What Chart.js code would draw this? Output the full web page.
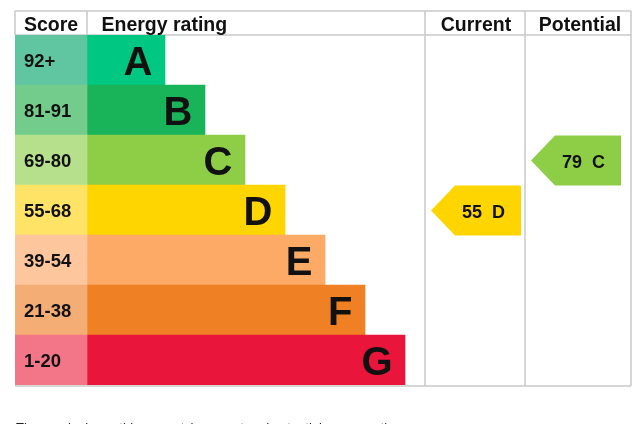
<!DOCTYPE html>
<html>
<head>
<meta charset="utf-8">
<script src="https://cdn.jsdelivr.net/npm/chart.js@4.4.1/dist/chart.umd.min.js"></script>
<style>
  html, body { margin: 0; padding: 0; background: #ffffff; overflow: hidden; }
  canvas { display: block; }
</style>
</head>
<body>
<canvas id="c" width="639" height="424"></canvas>
<script>
// ---- Data ----
const bands = ['A', 'B', 'C', 'D', 'E', 'F', 'G'];
const scoreRanges = ['92+', '81-91', '69-80', '55-68', '39-54', '21-38', '1-20'];
const ratingBarLengths = [78, 118, 158, 198, 238, 278, 318];
const headerLabels = ['Score', 'Energy rating', 'Current', 'Potential'];
const currentRating = { score: 55, band: 'D' };
const potentialRating = { score: 79, band: 'C' };
const footnote = "The graph shows this property's current and potential energy rating.";

// ---- Styles ----
const scoreColors = ['#60c6a1', '#73cc8b', '#b6e08b', '#ffe366', '#fdc69c', '#f4ad74', '#f27588'];
const barColors = ['#00c781', '#19b459', '#8dce46', '#ffd500', '#fcaa65', '#ef8023', '#e9153b'];
const FONT = '"Liberation Sans", Arial, Helvetica, sans-serif';
const TEXT = '#111111';
const GRID = '#c9c9c9';

// column layout in x-scale units
const COL = { score: [0, 72], rating: [72, 410], current: [410, 510], potential: [510, 616] };

const scoreCells = bands.map(() => [COL.score[0], COL.score[1]]);
const ratingBars = ratingBarLengths.map(l => [COL.rating[0], COL.rating[0] + l]);

const tablePlugin = {
  id: 'epcTable',
  beforeDatasetsDraw(chart) {
    const ctx = chart.ctx;
    const xs = chart.scales.x;
    const ca = chart.chartArea;
    const top = 11, headBottom = ca.top, bottom = ca.bottom + 1;
    const px = v => xs.getPixelForValue(v);
    ctx.save();
    ctx.strokeStyle = GRID;
    ctx.lineWidth = 1.5;
    const line = (x1, y1, x2, y2) => { ctx.beginPath(); ctx.moveTo(x1, y1); ctx.lineTo(x2, y2); ctx.stroke(); };
    line(px(0), top, px(616), top);
    line(px(0), headBottom, px(616), headBottom);
    line(px(0), bottom, px(616), bottom);
    line(px(COL.score[0]), top, px(COL.score[0]), headBottom);
    line(px(COL.rating[0]), top, px(COL.rating[0]), headBottom);
    line(px(COL.current[0]), top, px(COL.current[0]), bottom);
    line(px(COL.potential[0]), top, px(COL.potential[0]), bottom);
    line(px(COL.potential[1]), top, px(COL.potential[1]), bottom);

    // headers
    ctx.fillStyle = TEXT;
    ctx.font = 'bold 19.5px ' + FONT;
    ctx.textBaseline = 'alphabetic';
    ctx.textAlign = 'center';
    ctx.fillText(headerLabels[0], (px(COL.score[0]) + px(COL.score[1])) / 2, 31);
    ctx.textAlign = 'left';
    ctx.fillText(headerLabels[1], px(COL.rating[0]) + 14.5, 31);
    ctx.textAlign = 'center';
    ctx.fillText(headerLabels[2], (px(COL.current[0]) + px(COL.current[1])) / 2 + 1, 31);
    ctx.fillText(headerLabels[3], (px(COL.potential[0]) + px(COL.potential[1])) / 2 + 2, 31);

    // footnote
    ctx.textAlign = 'left';
    ctx.font = '13px ' + FONT;
    ctx.fillStyle = '#222222';
    ctx.fillText(footnote, 16, 431.5);
    ctx.restore();
  },
  afterDatasetsDraw(chart) {
    const ctx = chart.ctx;
    const xs = chart.scales.x, ys = chart.scales.y;
    const px = v => xs.getPixelForValue(v);
    const rowH = (chart.chartArea.bottom - chart.chartArea.top) / bands.length;
    ctx.save();
    ctx.fillStyle = TEXT;
    bands.forEach((b, i) => {
      const cy = ys.getPixelForValue(i);
      ctx.font = 'bold 18.5px ' + FONT;
      ctx.textAlign = 'left';
      ctx.fillText(scoreRanges[i], px(COL.score[0]) + 9, cy + 6.6);
      ctx.font = 'bold 40px ' + FONT;
      ctx.textAlign = 'right';
      ctx.fillText(b, px(ratingBars[i][1]) - 12.5, cy + 14.5);
    });
    const arrow = (rating, col) => {
      const i = bands.indexOf(rating.band);
      const cy = ys.getPixelForValue(i);
      const t = cy - rowH / 2 + 0.5, bt = cy + rowH / 2 + 0.5;
      const tip = px(col[0]) + 6, bodyL = px(col[0]) + 30, right = px(col[0]) + 96;
      ctx.fillStyle = barColors[i];
      ctx.beginPath();
      ctx.moveTo(tip, cy + 0.5);
      ctx.lineTo(bodyL, t);
      ctx.lineTo(right, t);
      ctx.lineTo(right, bt);
      ctx.lineTo(bodyL, bt);
      ctx.closePath();
      ctx.fill();
      ctx.fillStyle = TEXT;
      ctx.font = 'bold 18px ' + FONT;
      ctx.textAlign = 'center';
      ctx.fillText(rating.score + '  ' + rating.band, (tip + right) / 2 + 7.5, cy + 7.5);
    };
    arrow(currentRating, COL.current);
    arrow(potentialRating, COL.potential);
    ctx.restore();
  }
};

new Chart(document.getElementById('c'), {
  type: 'bar',
  data: {
    labels: bands,
    datasets: [
      { label: 'Score', data: scoreCells, backgroundColor: scoreColors, borderWidth: 0,
        barPercentage: 1, categoryPercentage: 1, grouped: false },
      { label: 'Energy rating', data: ratingBars, backgroundColor: barColors, borderWidth: 0,
        barPercentage: 1, categoryPercentage: 1, grouped: false }
    ]
  },
  options: {
    indexAxis: 'y',
    responsive: false,
    animation: false,
    devicePixelRatio: 1,
    layout: { padding: { left: 15, right: 8, top: 35, bottom: 39 } },
    plugins: { legend: { display: false }, tooltip: { enabled: false }, title: { display: false } },
    scales: {
      x: { type: 'linear', min: 0, max: 616, display: false },
      y: { type: 'category', display: false, offset: true }
    }
  },
  plugins: [tablePlugin]
});
</script>
</body>
</html>
